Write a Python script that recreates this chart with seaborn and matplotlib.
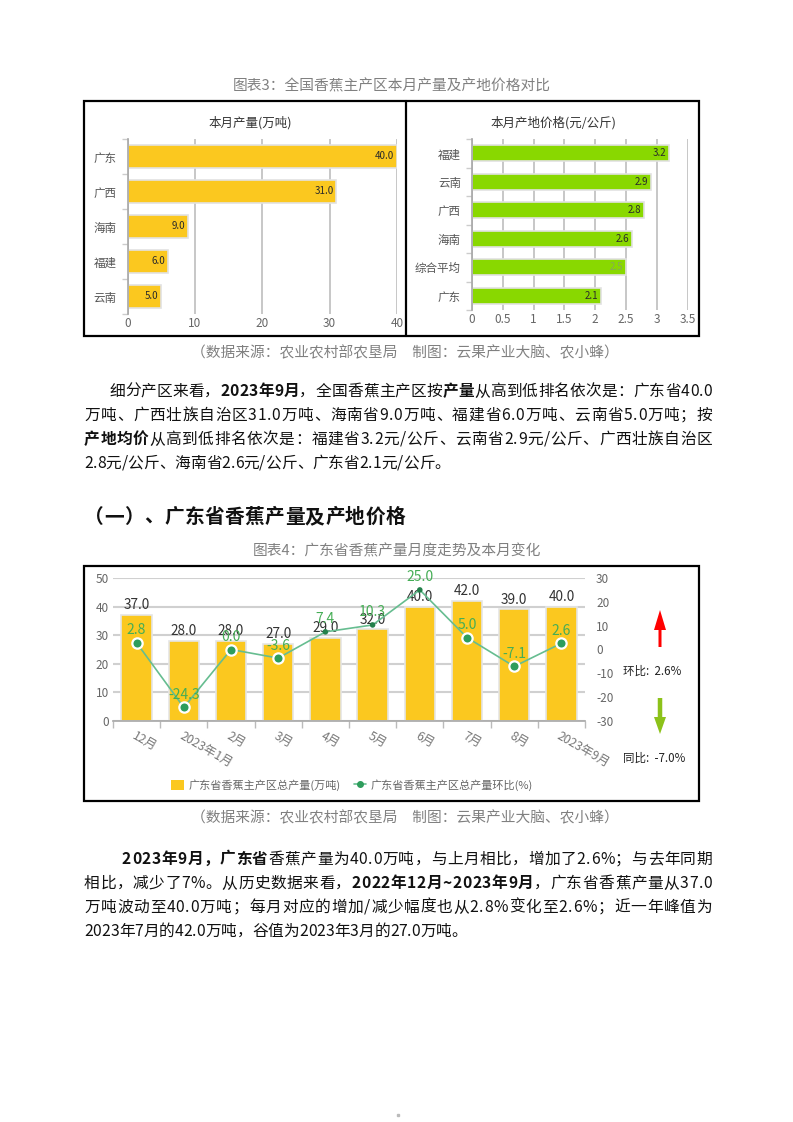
import numpy as np
import pandas as pd
import matplotlib
matplotlib.use('Agg')
import matplotlib.pyplot as plt
import seaborn as sns
from matplotlib import font_manager
from matplotlib.ft2font import FT2Font
from matplotlib.patches import Rectangle, FancyArrow, Patch
from matplotlib.lines import Line2D

try:
    from matplotlib.ft2font import LoadFlags
    NO_HINT = LoadFlags.NO_HINTING
except ImportError:
    from matplotlib.ft2font import LOAD_NO_HINTING as NO_HINT

W, H = 793, 1122

# 图表3 数据
output_regions = ['广东', '广西', '海南', '福建', '云南']
output_values = [40.0, 31.0, 9.0, 6.0, 5.0]
price_regions = ['福建', '云南', '广西', '海南', '综合平均', '广东']
price_values = [3.2, 2.9, 2.8, 2.6, 2.5, 2.1]

# 图表4 数据
months = ['12月', '2023年1月', '2月', '3月', '4月', '5月', '6月', '7月', '8月', '2023年9月']
gd_output = [37.0, 28.0, 28.0, 27.0, 29.0, 32.0, 40.0, 42.0, 39.0, 40.0]
gd_mom = [2.8, -24.3, 0.0, -3.6, 7.4, 10.3, 25.0, 5.0, -7.1, 2.6]
small_dot_months = ['4月', '5月', '6月']
mom_latest = 2.6
yoy_latest = -7.0

YELLOW = '#FBC81F'
GREEN_BAR = '#89D800'
LINE_C = '#66bd90'
DOT_C = '#2e9d5c'
LAB_C = '#45ad55'
CJK = 'Noto Sans CJK SC'
FAM = [CJK, 'DejaVu Sans']

sns.set_theme(style='white')
plt.rcParams['font.family'] = FAM
plt.rcParams['axes.unicode_minus'] = False

fig = plt.figure(figsize=(W / 100, H / 100), dpi=100)
fig.patch.set_facecolor('white')


def px_axes(x0, y0, x1, y1, **kw):
    return fig.add_axes([x0 / W, 1 - y1 / H, (x1 - x0) / W, (y1 - y0) / H], **kw)


# overlay in pixel coordinates for page text and frames
ov = px_axes(0, 0, W, H, zorder=10)
ov.set_xlim(0, W)
ov.set_ylim(H, 0)
ov.axis('off')

font_cache = {}


def advance(ch, bold, size):
    key = (bold, size)
    if key not in font_cache:
        path = font_manager.findfont(font_manager.FontProperties(
            family=CJK, weight='bold' if bold else 'normal'))
        f = FT2Font(path)
        f.set_size(size, 100)
        font_cache[key] = f
    g = font_cache[key].load_char(ord(ch), flags=NO_HINT)
    return g.linearHoriAdvance / 65536


def draw_runs(runs, x0, yc, size, x1=None, color='#111111'):
    # draw a line of mixed normal / bold text, optionally justified to x1
    chars = [(ch, b) for txt, b in runs for ch in txt]
    widths = [advance(ch, b, size) for ch, b in chars]
    gap = 0
    if x1 is not None and len(chars) > 1:
        gap = (x1 - x0 - sum(widths)) / (len(chars) - 1)
    base = yc + 0.36 * size * 100 / 72
    x = x0
    for (ch, b), w in zip(chars, widths):
        ov.text(x, base, ch, fontsize=size, fontweight='bold' if b else 'normal',
                ha='left', va='baseline', color=color, family=FAM)
        x += w + gap


# ---------- 图表3 ----------
ov.text(392, 86, '图表3：全国香蕉主产区本月产量及产地价格对比', fontsize=10.6,
        color='#808080', ha='center', va='center')
ov.add_patch(Rectangle((84, 101), 615, 235, fill=False, lw=1.6, ec='black'))
ov.plot([406, 406], [101, 336], color='black', lw=1.6)
ov.text(250, 123, '本月产量(万吨)', fontsize=9, color='#333333', ha='center', va='center')
ov.text(553, 123, '本月产地价格(元/公斤)', fontsize=9, color='#333333', ha='center', va='center')


def style_hbar(ax, n, xmax, xticks):
    ax.set_xlim(0, xmax)
    ax.set_ylim(n - 0.5, -0.5)
    ax.set_xticks(xticks)
    ax.set_xticklabels([f'{t:g}' for t in xticks])
    ax.grid(axis='x', color='#bdbdbd', lw=1.2)
    ax.grid(axis='y', visible=False)
    ax.set_axisbelow(True)
    for s in ['top', 'right', 'bottom']:
        ax.spines[s].set_visible(False)
    ax.spines['left'].set_color('#aaaaaa')
    ax.set_yticks(np.arange(n + 1) - 0.5, minor=True)
    ax.tick_params(axis='y', which='major', length=0, pad=8, labelsize=8.3, labelcolor='#555555')
    ax.tick_params(axis='y', which='minor', length=4, color='#cccccc', left=True)
    ax.tick_params(axis='x', length=0, pad=2.5, labelsize=8.5, labelcolor='#666666')
    ax.set_xlabel('')
    ax.set_ylabel('')


ax1 = px_axes(127.5, 139, 397, 314)
df1 = pd.DataFrame({'region': output_regions, 'value': output_values})
sns.barplot(data=df1, x='value', y='region', orient='h', color=YELLOW, saturation=1,
            width=0.63, edgecolor='#e2e2e2', linewidth=1.2, ax=ax1)
style_hbar(ax1, len(output_regions), 40, [0, 10, 20, 30, 40])
for i, v in enumerate(output_values):
    ax1.annotate(f'{v:.1f}', (v, i), xytext=(-2, 0), textcoords='offset points',
                 ha='right', va='center', fontsize=7, color='#2a2a2a')

ax2 = px_axes(472, 139, 687.5, 310)
df2 = pd.DataFrame({'region': price_regions, 'value': price_values})
sns.barplot(data=df2, x='value', y='region', orient='h', color=GREEN_BAR, saturation=1,
            width=0.55, edgecolor='#e2e2e2', linewidth=1.2, ax=ax2)
style_hbar(ax2, len(price_regions), 3.5, [0, 0.5, 1, 1.5, 2, 2.5, 3, 3.5])
for i, (r, v) in enumerate(zip(price_regions, price_values)):
    ax2.annotate(f'{v:.1f}', (v, i), xytext=(-2, 0), textcoords='offset points',
                 ha='right', va='center', fontsize=7,
                 color='#86a95a' if r == '综合平均' else '#2a2a2a')

ov.text(405, 353, '（数据来源：农业农村部农垦局　制图：云果产业大脑、农小蜂）',
        fontsize=10.6, color='#808080', ha='center', va='center')

# ---------- 正文 1 ----------
P = 11.3
draw_runs([('细分产区来看，', False), ('2023年9月', True), ('，全国香蕉主产区按', False),
           ('产量', True), ('从高到低排名依次是：广东省40.0', False)], 109, 390, P, 712)
draw_runs([('万吨、广西壮族自治区31.0万吨、海南省9.0万吨、福建省6.0万吨、云南省5.0万吨；按', False)],
          84, 414, P, 712)
draw_runs([('产地均价', True), ('从高到低排名依次是：福建省3.2元/公斤、云南省2.9元/公斤、广西壮族自治区', False)],
          84, 438, P, 712)
draw_runs([('2.8元/公斤、海南省2.6元/公斤、广东省2.1元/公斤。', False)], 84, 462, P)

draw_runs([('（一）、广东省香蕉产量及产地价格', True)], 84, 516, 14.2, 405)

# ---------- 图表4 ----------
ov.text(397, 551, '图表4：广东省香蕉产量月度走势及本月变化', fontsize=10.6,
        color='#808080', ha='center', va='center')
ov.add_patch(Rectangle((84, 566), 615, 235, fill=False, lw=1.6, ec='black'))

ax3 = px_axes(113, 578, 585, 721)
df4 = pd.DataFrame({'month': months, 'output': gd_output, 'mom': gd_mom})
sns.barplot(data=df4, x='month', y='output', color=YELLOW, saturation=1, width=0.64,
            edgecolor='#e5e5e5', linewidth=1.2, ax=ax3)
ax3.set_ylim(0, 50)
ax3.set_yticks(range(0, 51, 10))
ax3.grid(axis='y', color='#d0d0d0', lw=1.5)
ax3.grid(axis='x', visible=False)
ax3.set_axisbelow(True)
for s in ['top', 'right', 'left']:
    ax3.spines[s].set_visible(False)
ax3.spines['bottom'].set_color('#aaaaaa')
ax3.set_xticks(range(len(months)))
ax3.set_xticklabels(months, rotation=-30, ha='left', va='top', rotation_mode='anchor')
ax3.set_xticks(np.arange(len(months) + 1) - 0.5, minor=True)
ax3.tick_params(axis='x', which='major', length=0, pad=6, labelsize=8.8, labelcolor='#777777')
ax3.tick_params(axis='x', which='minor', length=5, color='#bbbbbb', bottom=True)
ax3.tick_params(axis='y', length=0, pad=3, labelsize=8.5, labelcolor='#666666')
ax3.set_xlabel('')
ax3.set_ylabel('')
for i, v in enumerate(gd_output):
    ax3.annotate(f'{v:.1f}', (i, v), xytext=(0, 2), textcoords='offset points',
                 ha='center', va='bottom', fontsize=9.8, color='#333333')

ax4 = ax3.twinx()
xs = np.arange(len(months))
mom = np.array(gd_mom)
big = np.array([m not in small_dot_months for m in months])
sns.lineplot(x=xs, y=mom, color=LINE_C, lw=1.2, ax=ax4)
sns.scatterplot(x=xs[big], y=mom[big], s=55, color=DOT_C, edgecolor='white',
                linewidth=1.6, ax=ax4, zorder=5)
sns.scatterplot(x=xs[~big], y=mom[~big], s=16, color='#23804a', edgecolor='none',
                ax=ax4, zorder=5)
ax4.set_ylim(-30, 30)
ax4.set_yticks(range(-30, 31, 10))
ax4.set_xlim(-0.5, len(months) - 0.5)
ax3.set_xlim(-0.5, len(months) - 0.5)
ax4.grid(False)
for s in ax4.spines.values():
    s.set_visible(False)
ax4.tick_params(axis='y', length=0, pad=8, labelsize=8.5, labelcolor='#666666')
ax4.set_ylabel('')
for i, v in enumerate(gd_mom):
    ax4.annotate(f'{v:.1f}', (i, v), xytext=(0, 4), textcoords='offset points',
                 ha='center', va='bottom', fontsize=10, color=LAB_C, zorder=6)

handles = [Patch(fc=YELLOW, ec='none'),
           Line2D([0], [0], color=LINE_C, lw=1.2, marker='o', markersize=4,
                  markerfacecolor=DOT_C, markeredgecolor=DOT_C)]
fig.legend(handles, ['广东省香蕉主产区总产量(万吨)', '广东省香蕉主产区总产量环比(%)'],
           loc='center', bbox_to_anchor=(352 / W, 1 - 785 / H), ncol=2, frameon=False,
           fontsize=8, labelcolor='#666666', handlelength=1.1, handleheight=1.1,
           handletextpad=0.4, columnspacing=1.2)

ov.add_patch(FancyArrow(660, 647, 0, -37, width=3, head_width=12, head_length=20,
                        length_includes_head=True, color='#ff0000', lw=0))
ov.add_patch(FancyArrow(660, 698, 0, 36, width=4.5, head_width=12, head_length=17,
                        length_includes_head=True, color='#8cc21a', lw=0))
ov.text(623, 671, f'环比:  {mom_latest:.1f}%', fontsize=8.3, color='#222222', ha='left', va='center')
ov.text(623, 758, f'同比:  {yoy_latest:.1f}%', fontsize=8.3, color='#222222', ha='left', va='center')

ov.text(405, 818, '（数据来源：农业农村部农垦局　制图：云果产业大脑、农小蜂）',
        fontsize=10.6, color='#808080', ha='center', va='center')

# ---------- 正文 2 ----------
draw_runs([('2023年9月，广东省', True), ('香蕉产量为40.0万吨，与上月相比，增加了2.6%；与去年同期', False)],
          122, 858, P, 712)
draw_runs([('相比，减少了7%。从历史数据来看，', False), ('2022年12月~2023年9月', True),
           ('，广东省香蕉产量从37.0', False)], 84, 882, P, 712)
draw_runs([('万吨波动至40.0万吨；每月对应的增加/减少幅度也从2.8%变化至2.6%；近一年峰值为', False)],
          84, 906, P, 712)
draw_runs([('2023年7月的42.0万吨，谷值为2023年3月的27.0万吨。', False)], 84, 930, P)

ov.plot([398], [1115], marker='s', markersize=2, color='#bbbbbb')

fig.savefig('out.png', dpi=100, facecolor='white')
